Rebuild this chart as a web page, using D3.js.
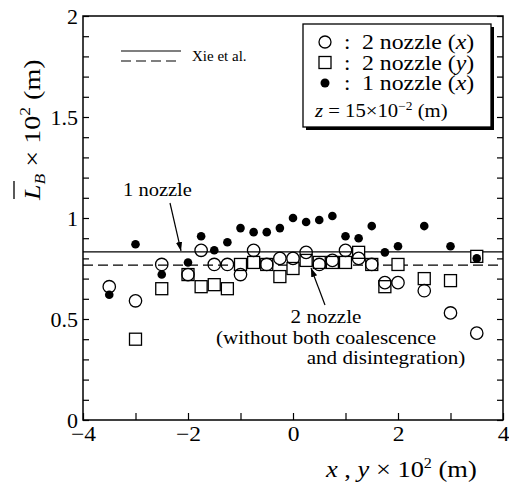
<!DOCTYPE html>
<html>
<head>
<meta charset="utf-8">
<script src="https://cdn.jsdelivr.net/npm/d3@7"></script>
<style>
  body { margin: 0; background: white; }
  text { font-family: "Liberation Serif", "Times New Roman", serif; fill: black; }
</style>
</head>
<body>
<svg id="chart" width="509" height="490"></svg>
<script>
// positions along the pipe, x,y * 10^2 (m)
const POS = [-3.5, -3, -2.5, -2, -1.75, -1.5, -1.25, -1, -0.75, -0.5, -0.25, 0,
    0.25, 0.5, 0.75, 1, 1.25, 1.5, 1.75, 2, 2.5, 3, 3.5]
// 2 nozzle (x)  - open circles
const twoNozzleX = [0.66, 0.59, 0.77, 0.72, 0.84, 0.77, 0.77, 0.72, 0.84, 0.77, 0.80, 0.80,
    0.83, 0.77, 0.79, 0.84, 0.80, 0.77, 0.68, 0.68, 0.64, 0.53, 0.43]
// 2 nozzle (y)  - open squares (no point at -3.5)
const twoNozzleY = [null, 0.40, 0.65, 0.72, 0.66, 0.67, 0.65, 0.77, 0.78, 0.77, 0.71, 0.75,
    0.79, 0.78, 0.78, 0.78, 0.83, 0.77, 0.66, 0.77, 0.70, 0.69, 0.81]
// 1 nozzle (x)  - filled circles
const oneNozzleX = [0.62, 0.87, 0.72, 0.78, 0.91, 0.84, 0.88, 0.95, 0.93, 0.93, 0.95, 1.00,
    0.98, 0.99, 1.01, 0.91, 0.90, 0.96, 0.83, 0.86, 0.96, 0.86, 0.80]
// Xie et al. predictions
const XIE_1NOZZLE = 0.832
const XIE_2NOZZLE = 0.767

const X_TICKS = [-4, -3, -2, -1, 0, 1, 2, 3, 4]
const X_LABELS = [-4, -2, 0, 2, 4]
const Y_TICKS = d3.range(0, 21).map(i => i / 10)
const Y_LABELS = [0, 0.5, 1, 1.5, 2]
const LEGEND = ["2 nozzle (", "2 nozzle (", "1 nozzle ("]
const LEGEND_VAR = ["x", "y", "x"]

const svg = d3.select("#chart")
const LEFT = 83, RIGHT = 503, TOP = 16, BOTTOM = 420

let xs = d3.scaleLinear().domain([-4, 4]).range([LEFT, RIGHT])
let ys = d3.scaleLinear().domain([0, 2]).range([BOTTOM, TOP])

// the scanned figure's type is a bit wider than Times, so stretch horizontally
let label = (x, y, size, sx, anchor) => svg.append("text")
    .attr("transform", `translate(${x},${y}) scale(${sx},1)`)
    .attr("font-size", size)
    .attr("text-anchor", anchor || "start")

// axes, ticks pointing inward
let fmtX = d => X_LABELS.includes(d) ? (d < 0 ? "\u2212" + (-d) : d) : ""
let fmtY = d => Y_LABELS.some(v => Math.abs(v - d) < 1e-9) ? String(+d.toFixed(1)) : ""

let gx = svg.append("g")
    .attr("transform", `translate(0,${BOTTOM})`)
    .call(d3.axisBottom(xs).tickValues(X_TICKS).tickSizeInner(-7).tickSizeOuter(0)
        .tickPadding(6).tickFormat(fmtX))
let gy = svg.append("g")
    .attr("transform", `translate(${LEFT},0)`)
    .call(d3.axisLeft(ys).tickValues(Y_TICKS).tickSizeInner(-6).tickSizeOuter(0)
        .tickPadding(5).tickFormat(fmtY))
let gr = svg.append("g")
    .attr("transform", `translate(${RIGHT},0)`)
    .call(d3.axisRight(ys).tickValues(Y_TICKS).tickSizeInner(-6).tickSizeOuter(0)
        .tickFormat(""))
for (let g of [gx, gy, gr]) {
    g.select(".domain").remove()
    g.selectAll("line").attr("stroke", "black").attr("stroke-width", 1.2)
    g.selectAll("text").attr("fill", "black")
}
gx.selectAll("text").attr("font-size", 21).attr("transform", "scale(1.12,1)")
gy.selectAll("text").attr("font-size", 22).attr("dy", "0.32em")

svg.append("rect")
    .attr("x", LEFT).attr("y", TOP)
    .attr("width", RIGHT - LEFT).attr("height", BOTTOM - TOP)
    .attr("fill", "none").attr("stroke", "black").attr("stroke-width", 1.5)

// Xie et al. lines
svg.append("line")
    .attr("x1", xs(-4)).attr("x2", xs(4))
    .attr("y1", ys(XIE_1NOZZLE)).attr("y2", ys(XIE_1NOZZLE))
    .attr("stroke", "black").attr("stroke-width", 1.2)
svg.append("line")
    .attr("x1", xs(-4)).attr("x2", xs(4))
    .attr("y1", ys(XIE_2NOZZLE)).attr("y2", ys(XIE_2NOZZLE))
    .attr("stroke", "black").attr("stroke-width", 1.2)
    .attr("stroke-dasharray", "10,5")

// markers
let pts = (vals) => POS.map((p, i) => ({ x: p, v: vals[i] })).filter(d => d.v !== null)

svg.selectAll(".sq").data(pts(twoNozzleY)).enter()
    .append("rect")
    .attr("x", d => xs(d.x) - 6).attr("y", d => ys(d.v) - 6)
    .attr("width", 12).attr("height", 12)
    .attr("fill", "white").attr("stroke", "black").attr("stroke-width", 1.3)
svg.selectAll(".ci").data(pts(twoNozzleX)).enter()
    .append("circle")
    .attr("cx", d => xs(d.x)).attr("cy", d => ys(d.v)).attr("r", 6.2)
    .attr("fill", "none").attr("stroke", "black").attr("stroke-width", 1.3)
svg.selectAll(".dot").data(pts(oneNozzleX)).enter()
    .append("circle")
    .attr("cx", d => xs(d.x)).attr("cy", d => ys(d.v)).attr("r", 4.3)
    .attr("fill", "black")

// annotations
svg.append("defs").append("marker")
    .attr("id", "arr").attr("viewBox", "0 0 10 10")
    .attr("refX", 10).attr("refY", 5)
    .attr("markerWidth", 9).attr("markerHeight", 9)
    .attr("markerUnits", "userSpaceOnUse")
    .attr("orient", "auto")
    .append("path").attr("d", "M0,1.5 L10,5 L0,8.5 Z").attr("fill", "black")

label(123, 196, 18, 1.14).text("1 nozzle")
svg.append("line")
    .attr("x1", 170).attr("y1", 203).attr("x2", 181).attr("y2", ys(XIE_1NOZZLE) - 1)
    .attr("stroke", "black").attr("stroke-width", 1.2).attr("marker-end", "url(#arr)")

label(326, 323, 18.5, 1.14, "middle").text("2 nozzle")
label(326, 344, 18.5, 1.14, "middle").text("(without both coalescence")
label(386, 364, 18.5, 1.14, "middle").text("and disintegration)")
svg.append("line")
    .attr("x1", 325).attr("y1", 305).attr("x2", 311).attr("y2", 268)
    .attr("stroke", "black").attr("stroke-width", 1.2).attr("marker-end", "url(#arr)")

// Xie et al. key
svg.append("line").attr("x1", 121).attr("x2", 181).attr("y1", 51).attr("y2", 51)
    .attr("stroke", "black").attr("stroke-width", 1.2)
svg.append("line").attr("x1", 121).attr("x2", 181).attr("y1", 61).attr("y2", 61)
    .attr("stroke", "black").attr("stroke-width", 1.2).attr("stroke-dasharray", "10,5")
label(192, 61, 15, 1.0).text("Xie et al.")

// legend box with shadow
svg.append("rect").attr("x", 306).attr("y", 27).attr("width", 188).attr("height", 103)
    .attr("fill", "black")
svg.append("rect").attr("x", 303).attr("y", 24).attr("width", 188).attr("height", 103)
    .attr("fill", "white").attr("stroke", "black").attr("stroke-width", 1.3)

LEGEND.forEach((lbl, i) => {
    let cy = 42 + i * 20.5
    if (i === 0) {
        svg.append("circle").attr("cx", 325).attr("cy", cy).attr("r", 6)
            .attr("fill", "none").attr("stroke", "black").attr("stroke-width", 1.3)
    } else if (i === 1) {
        svg.append("rect").attr("x", 319).attr("y", cy - 6).attr("width", 12).attr("height", 12)
            .attr("fill", "none").attr("stroke", "black").attr("stroke-width", 1.3)
    } else {
        svg.append("circle").attr("cx", 325).attr("cy", cy).attr("r", 4.5).attr("fill", "black")
    }
    label(344, cy + 7, 21, 1.1).text(":")
    let t = label(362, cy + 7, 20.5, 1.16)
    t.append("tspan").text(lbl)
    t.append("tspan").attr("font-style", "italic").text(LEGEND_VAR[i])
    t.append("tspan").text(")")
})
let zt = label(315, 117, 18.5, 1.12)
zt.append("tspan").attr("font-style", "italic").text("z")
zt.append("tspan").text(" = 15\u00d710")
zt.append("tspan").attr("dy", -7).attr("font-size", 12).text("\u22122")
zt.append("tspan").attr("dy", 7).text(" (m)")

// x axis title
let xt = label(326, 477, 23, 1.15)
xt.append("tspan").attr("font-style", "italic").text("x")
xt.append("tspan").text(" , ")
xt.append("tspan").attr("font-style", "italic").text("y")
xt.append("tspan").text(" \u00d7 10")
xt.append("tspan").attr("dy", -9).attr("font-size", 14).text("2")
xt.append("tspan").attr("dy", 9).text(" (m)")

// y axis title, rotated
let yg = svg.append("g").attr("transform", "translate(40,200) rotate(-90)")
let yt = yg.append("text").attr("transform", "scale(1.17,1)").attr("font-size", 24)
yt.append("tspan").attr("font-style", "italic").text("L")
yt.append("tspan").attr("font-style", "italic").attr("dy", 5).attr("font-size", 15).text("B")
yt.append("tspan").attr("dy", -5).text(" \u00d7 10")
yt.append("tspan").attr("dy", -10).attr("font-size", 15).text("2")
yt.append("tspan").attr("dy", 10).text(" (m)")
yg.append("line").attr("x1", 1).attr("x2", 19).attr("y1", -26).attr("y2", -26)
    .attr("stroke", "black").attr("stroke-width", 1.3)
</script>
</body>
</html>
